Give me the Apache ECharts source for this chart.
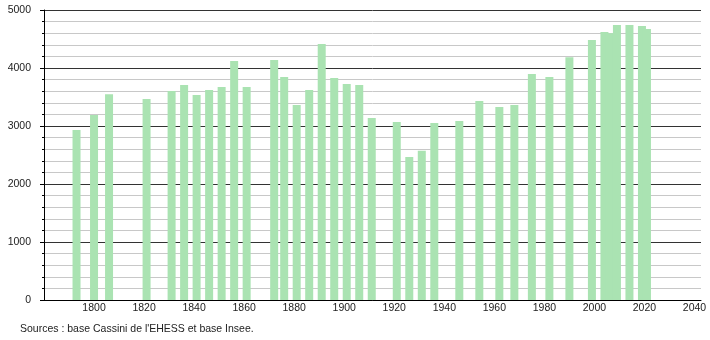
<!DOCTYPE html>
<html>
<head>
<meta charset="utf-8">
<script src="https://cdn.jsdelivr.net/npm/echarts@6/dist/echarts.min.js"></script>
<style>
html,body{margin:0;padding:0;background:#fff;}
#c{width:710px;height:340px;}
</style>
</head>
<body>
<div id="c"></div>
<script>
const years = [1793,1800,1806,1821,1831,1836,1841,1846,1851,1856,1861,1872,1876,1881,1886,1891,1896,1901,1906,1911,1921,1926,1931,1936,1946,1954,1962,1968,1975,1982,1990,1999,2004,2006,2009,2014,2019,2021];
const population = [2930,3190,3546,3466,3603,3707,3534,3621,3672,4121,3672,4138,3845,3362,3621,4414,3828,3724,3707,3138,3069,2466,2574,3052,3086,3431,3328,3362,3897,3845,4184,4483,4621,4598,4741,4741,4724,4672];
const yTicks = [0,1000,2000,3000,4000,5000];
const xTicks = [1800,1820,1840,1860,1880,1900,1920,1940,1960,1980,2000,2020,2040];
const sourceText = "Sources : base Cassini de l'EHESS et base Insee.";

const chart = echarts.init(document.getElementById('c'), null, {renderer:'canvas'});
const font = '"Liberation Sans", Arial, sans-serif';
chart.setOption({
  animation:false,
  backgroundColor:'#fff',
  grid:{left:44, right:9, top:10, bottom:40, containLabel:false},
  xAxis:{
    type:'value', min:1780, max:2042.6, interval:20,
    axisLine:{show:true, onZero:false, lineStyle:{color:'#000', width:1}},
    axisTick:{show:false},
    splitLine:{show:false},
    axisLabel:{
      color:'#222', fontSize:10.5, fontFamily:font, margin:3,
      showMinLabel:false, showMaxLabel:false,
      formatter:v => xTicks.includes(v) ? String(v) : ''
    }
  },
  yAxis:{
    type:'value', min:yTicks[0], max:yTicks[yTicks.length-1], interval:1000,
    axisLine:{show:true, lineStyle:{color:'#000', width:1}},
    axisTick:{show:true, length:4, lineStyle:{color:'#000'}},
    minorTick:{show:true, splitNumber:5, length:2, lineStyle:{color:'#000'}},
    splitLine:{show:true, lineStyle:{color:'#333', width:1}},
    minorSplitLine:{show:true, lineStyle:{color:'#c8c8c8', width:1}},
    axisLabel:{color:'#222', fontSize:10.5, fontFamily:font, margin:13,
      formatter:v => yTicks.includes(v) ? String(v) : ''}
  },
  series:[{
    type:'bar',
    data:years.map((y,i)=>[y, population[i]]),
    barWidth:8,
    itemStyle:{color:'#aae3b2'},
    z:3
  }],
  graphic:[{
    type:'text', left:20, top:324,
    style:{text:sourceText, fill:'#222', font:'10.5px "Liberation Sans", Arial, sans-serif'}
  }]
});
</script>
</body>
</html>
